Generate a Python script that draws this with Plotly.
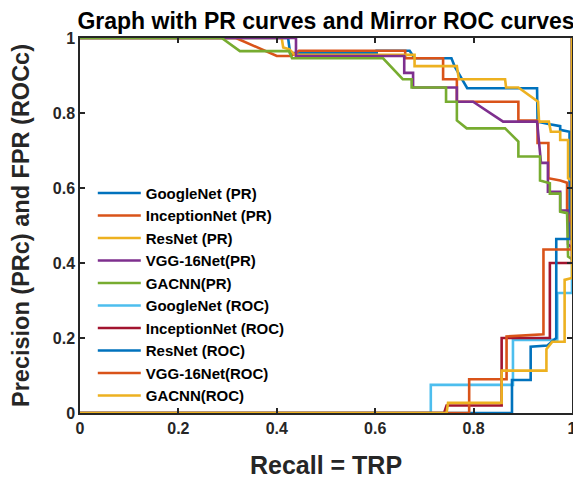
import plotly.graph_objects as go

# ---------------- data ----------------
names = ["GoogleNet (PR)", "InceptionNet (PR)", "ResNet (PR)", "VGG-16Net(PR)", "GACNN(PR)",
         "GoogleNet (ROC)", "InceptionNet (ROC)", "ResNet (ROC)", "VGG-16Net(ROC)", "GACNN(ROC)"]
colors = ["#0072BD", "#D95319", "#EDB120", "#7E2F8E", "#77AC30",
          "#4DBEEE", "#A2142F", "#0072BD", "#D95319", "#EDB120"]

googlenet_pr_x = [0, 0.423, 0.427, 0.603, 0.603, 0.67, 0.68, 0.755, 0.762, 0.787, 0.929, 0.929, 0.93, 0.955, 0.976, 0.976, 0.995, 0.995, 1]
googlenet_pr_y = [1, 1, 0.96, 0.96, 0.966, 0.966, 0.946, 0.946, 0.923, 0.866, 0.866, 0.835, 0.777, 0.77, 0.765, 0.755, 0.75, 0.47, 0.47]

inception_pr_x = [0, 0.317, 0.40, 0.429, 0.445, 0.661, 0.661, 0.738, 0.738, 0.766, 0.766, 0.891, 0.891, 0.93, 0.93, 0.952, 0.952, 0.976, 0.99, 0.99, 1]
inception_pr_y = [1, 1, 0.952, 0.952, 0.966, 0.966, 0.946, 0.946, 0.89, 0.89, 0.83, 0.83, 0.78, 0.78, 0.72, 0.72, 0.626, 0.62, 0.614, 0.54, 0.5]

resnet_pr_x = [0, 0.41, 0.413, 0.425, 0.437, 0.66, 0.68, 0.68, 0.766, 0.77, 0.864, 0.866, 0.891, 0.931, 0.933, 0.953, 0.957, 0.976, 0.976, 0.992, 0.992, 1]
resnet_pr_y = [1, 1, 0.975, 0.97, 0.955, 0.955, 0.955, 0.925, 0.925, 0.89, 0.89, 0.868, 0.868, 0.83, 0.777, 0.777, 0.75, 0.75, 0.728, 0.728, 0.626, 0.62]

vgg_pr_x = [0, 0.439, 0.439, 0.659, 0.659, 0.677, 0.677, 0.766, 0.766, 0.799, 0.86, 0.929, 0.937, 0.951, 0.951, 0.976, 0.976, 0.992, 0.992, 1]
vgg_pr_y = [1, 1, 0.952, 0.952, 0.907, 0.907, 0.868, 0.868, 0.83, 0.83, 0.777, 0.777, 0.667, 0.667, 0.59, 0.59, 0.54, 0.54, 0.45, 0.44]

gacnn_pr_x = [0, 0.288, 0.325, 0.425, 0.431, 0.616, 0.656, 0.674, 0.674, 0.744, 0.744, 0.766, 0.766, 0.786, 0.864, 0.891, 0.891, 0.935, 0.935, 0.955, 0.955, 0.976, 0.976, 0.99, 0.992, 1]
gacnn_pr_y = [1, 1, 0.965, 0.965, 0.946, 0.946, 0.89, 0.89, 0.868, 0.868, 0.83, 0.83, 0.78, 0.759, 0.759, 0.724, 0.684, 0.684, 0.62, 0.613, 0.585, 0.585, 0.537, 0.533, 0.417, 0.41]

googlenet_roc_x = [0, 0.713, 0.713, 0.88, 0.88, 0.97, 0.97, 1, 1]
googlenet_roc_y = [0, 0, 0.075, 0.075, 0.195, 0.195, 0.32, 0.32, 1]

inception_roc_x = [0, 0.74, 0.745, 0.857, 0.857, 0.955, 0.955, 1, 1]
inception_roc_y = [0, 0, 0.02, 0.02, 0.2, 0.2, 0.4, 0.4, 1]

resnet_roc_x = [0, 0.878, 0.878, 0.916, 0.916, 0.95, 0.968, 0.968, 1, 1]
resnet_roc_y = [0, 0, 0.088, 0.088, 0.177, 0.18, 0.2, 0.464, 0.464, 1]

vgg_roc_x = [0, 0.791, 0.791, 0.867, 0.867, 0.93, 0.942, 0.942, 1, 1]
vgg_roc_y = [0, 0, 0.09, 0.09, 0.204, 0.21, 0.21, 0.436, 0.436, 1]

gacnn_roc_x = [0, 0.745, 0.748, 0.857, 0.857, 0.948, 0.948, 0.96, 0.985, 0.985, 1, 1]
gacnn_roc_y = [0, 0, 0.027, 0.027, 0.113, 0.113, 0.17, 0.19, 0.19, 0.355, 0.36, 1]

series_x = [googlenet_pr_x, inception_pr_x, resnet_pr_x, vgg_pr_x, gacnn_pr_x,
            googlenet_roc_x, inception_roc_x, resnet_roc_x, vgg_roc_x, gacnn_roc_x]
series_y = [googlenet_pr_y, inception_pr_y, resnet_pr_y, vgg_pr_y, gacnn_pr_y,
            googlenet_roc_y, inception_roc_y, resnet_roc_y, vgg_roc_y, gacnn_roc_y]

tick_vals = [0, 0.2, 0.4, 0.6, 0.8, 1]
tick_text = ["0", "0.2", "0.4", "0.6", "0.8", "1"]

# ---------------- figure ----------------
FONT = "Liberation Sans, Arial, sans-serif"
fig = go.Figure()
for n, c, xs, ys in zip(names, colors, series_x, series_y):
    fig.add_trace(go.Scatter(x=xs, y=ys, mode="lines", name=n,
                             line=dict(color=c, width=2.6)))

axis_common = dict(range=[0, 1], tickvals=tick_vals, ticktext=tick_text, automargin=False,
                   showgrid=False, zeroline=False, showline=True, linecolor="#262626",
                   linewidth=1.5, mirror="ticks", ticks="inside", ticklen=5,
                   tickcolor="#262626", tickwidth=1.5,
                   tickfont=dict(family=FONT, size=16, color="#262626", weight="bold"))

# the page body adds an 8 px offset, so the figure is 8 px smaller and shifted
fig.update_layout(
    width=573, height=471,
    margin=dict(l=72, r=9, t=30, b=66, autoexpand=False),
    paper_bgcolor="white", plot_bgcolor="white",
    title=dict(text="Graph with PR curves and Mirror ROC curves",
               x=0.5, xanchor="center", xref="paper", y=1 - 5 / 471, yanchor="top",
               yref="container", pad=dict(t=0, b=0),
               font=dict(family=FONT, size=23, color="black", weight="bold")),
    xaxis=dict(title=dict(text="Recall = TRP", standoff=21,
                          font=dict(family=FONT, size=25, color="#262626", weight="bold")), **axis_common),
    yaxis=dict(title=dict(text="Precision (PRc) and FPR (ROCc)", standoff=19,
                          font=dict(family=FONT, size=23.5, color="#262626", weight="bold")), **axis_common),
    legend=dict(x=0.026, y=0.63, xanchor="left", yanchor="top",
                bgcolor="rgba(255,255,255,0)", borderwidth=0,
                itemwidth=43, tracegroupgap=0,
                font=dict(family=FONT, size=15, color="black", weight="bold")),
    showlegend=True,
)
fig.write_html("out.html")
